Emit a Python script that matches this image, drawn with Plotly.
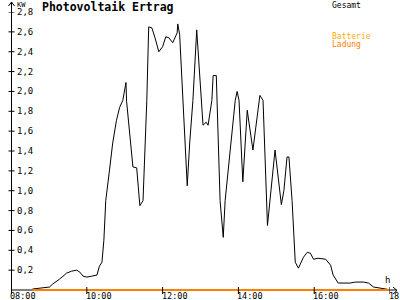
import plotly.graph_objects as go
import pandas as pd

# ---- data ----
times = ["08:34","08:45","09:01","09:06","09:17","09:28","09:36","09:44","09:49","09:54",
         "10:00","10:08","10:16","10:20","10:24","10:27","10:30","10:36","10:41","10:47",
         "10:52","10:57","11:02","11:03","11:08","11:13","11:19","11:24","11:29","11:35",
         "11:38","11:43","11:48","11:54","12:00","12:05","12:10","12:16","12:23","12:24",
         "12:27","12:32","12:39","12:43","12:48","12:54","13:01","13:04","13:09","13:12",
         "13:18","13:20","13:25","13:26","13:31","13:36","13:39","13:55","13:58","14:01",
         "14:07","14:14","14:23","14:34","14:39","14:46","14:50","14:58","15:08","15:12",
         "15:17","15:20","15:25","15:30","15:35","15:43","15:49","15:54","15:59","16:06",
         "16:18","16:26","16:30","16:38","16:57","17:05","17:18","17:26","17:34","17:50",
         "17:58"]
gesamt_kw = [0.01,0.02,0.03,0.06,0.11,0.17,0.19,0.20,0.18,0.14,
             0.13,0.14,0.15,0.24,0.28,0.50,0.90,1.21,1.48,1.71,
             1.84,1.91,2.09,1.90,1.56,1.24,1.23,0.85,0.90,1.91,
             2.65,2.64,2.54,2.40,2.45,2.55,2.54,2.49,2.59,2.68,
             2.57,1.91,1.05,1.49,1.91,2.62,1.91,1.66,1.69,1.66,
             1.91,2.16,2.16,1.91,0.90,0.53,0.90,1.91,2.00,1.91,
             1.09,1.81,1.41,1.96,1.91,0.65,0.90,1.41,0.86,1.00,
             1.34,1.34,0.90,0.28,0.22,0.33,0.38,0.37,0.31,0.32,
             0.31,0.25,0.15,0.07,0.07,0.08,0.08,0.07,0.03,0.01,
             0.005]

ladung_times = ["08:34", "17:59"]
ladung_kw = [0.0, 0.0]

x_ticks = ["08:00", "10:00", "12:00", "14:00", "16:00", "18:00"]
y_ticks = [0.2, 0.4, 0.6, 0.8, 1.0, 1.2, 1.4, 1.6, 1.8, 2.0, 2.2, 2.4, 2.6, 2.8]

DAY = "2024-06-01 "
def ts(t):
    return pd.Timestamp(DAY + t)

# ---- layout geometry (pixels) ----
W, H = 400, 300
ML, MR, MT, MB = 11, 10, 12, 8
PW, PH = W - ML - MR, H - MT - MB

def px(xp):
    return (xp - ML) / PW

def py(yp):
    return (H - MB - yp) / PH

MONO = "DejaVu Sans Mono"

fig = go.Figure()
fig.add_trace(go.Scatter(x=[ts(t) for t in times], y=gesamt_kw, mode="lines",
                         line=dict(color="black", width=1), name="Gesamt"))
fig.add_trace(go.Scatter(x=[ts(t) for t in ladung_times], y=ladung_kw, mode="lines",
                         line=dict(color="#FF8000", width=2), name="Ladung"))

shapes = []
# y axis with arrow
shapes.append(dict(type="line", xref="paper", yref="paper", x0=px(11.5), x1=px(11.5),
                   y0=py(294), y1=py(2), line=dict(color="black", width=1)))
shapes.append(dict(type="line", xref="paper", yref="paper", x0=px(8.5), x1=px(11.5),
                   y0=py(6), y1=py(2), line=dict(color="black", width=1)))
shapes.append(dict(type="line", xref="paper", yref="paper", x0=px(14.5), x1=px(11.5),
                   y0=py(6), y1=py(2), line=dict(color="black", width=1)))
# x axis with arrow
shapes.append(dict(type="line", xref="paper", yref="y", x0=px(11), x1=px(397),
                   y0=0, y1=0, line=dict(color="black", width=1), layer="below"))
shapes.append(dict(type="line", xref="paper", yref="paper", x0=px(393), x1=px(397),
                   y0=py(287), y1=py(290.5), line=dict(color="black", width=1)))
shapes.append(dict(type="line", xref="paper", yref="paper", x0=px(393), x1=px(397),
                   y0=py(294), y1=py(290.5), line=dict(color="black", width=1)))

annotations = []
# y tick crosses + labels
for v in y_ticks:
    shapes.append(dict(type="line", xref="paper", yref="y", x0=px(8.5), x1=px(14.5),
                       y0=v, y1=v, line=dict(color="black", width=1)))
    annotations.append(dict(text=f"{v:.1f}".replace(".", ","), x=px(15), y=v,
                            xref="paper", yref="y", xanchor="left", yanchor="middle",
                            showarrow=False,
                            font=dict(family=MONO, size=9, color="black")))
# x tick marks + labels
for t in x_ticks:
    shapes.append(dict(type="line", xref="x", yref="paper", x0=ts(t), x1=ts(t),
                       y0=py(287), y1=py(294), line=dict(color="black", width=1)))
    annotations.append(dict(text=t, x=ts(t), y=py(296), xref="x", yref="paper",
                            xanchor="left", yanchor="middle", xshift=-3,
                            showarrow=False,
                            font=dict(family=MONO, size=8.5, color="black")))

annotations += [
    dict(text="<b>Photovoltaik Ertrag</b>", x=px(40), y=py(7), xref="paper", yref="paper",
         xanchor="left", yanchor="middle", showarrow=False,
         font=dict(family=MONO, size=11.5, color="black")),
    dict(text="KW", x=px(15), y=py(5), xref="paper", yref="paper",
         xanchor="left", yanchor="middle", showarrow=False,
         font=dict(family=MONO, size=7, color="black")),
    dict(text="Gesamt", x=px(330), y=py(5), xref="paper", yref="paper",
         xanchor="left", yanchor="middle", showarrow=False,
         font=dict(family=MONO, size=8, color="black")),
    dict(text="Batterie", x=px(330), y=py(36), xref="paper", yref="paper",
         xanchor="left", yanchor="middle", showarrow=False,
         font=dict(family=MONO, size=8, color="#FFAA00")),
    dict(text="Ladung", x=px(330), y=py(44), xref="paper", yref="paper",
         xanchor="left", yanchor="middle", showarrow=False,
         font=dict(family=MONO, size=8, color="#FF8000")),
    dict(text="h", x=px(387), y=py(280), xref="paper", yref="paper",
         xanchor="center", yanchor="middle", showarrow=False,
         font=dict(family=MONO, size=9, color="black")),
]

fig.update_layout(
    width=W, height=H,
    margin=dict(l=ML, r=MR, t=MT, b=MB, pad=0),
    paper_bgcolor="white", plot_bgcolor="white",
    showlegend=False,
    shapes=shapes,
    annotations=annotations,
    xaxis=dict(type="date", range=[ts("08:00"), ts("18:00")],
               showgrid=False, zeroline=False, showline=False, ticks="",
               showticklabels=False, automargin=False),
    yaxis=dict(range=[-0.02, 2.8], showgrid=False, zeroline=False,
               showline=False, ticks="", showticklabels=False, automargin=False),
)

fig.write_html("out.html")
